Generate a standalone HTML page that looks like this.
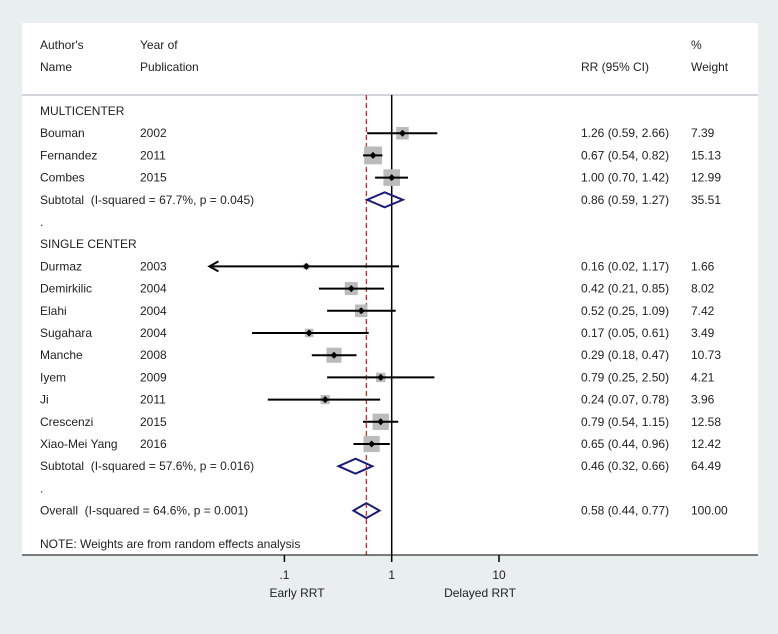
<!DOCTYPE html>
<html><head><meta charset="utf-8"><style>
body{margin:0;width:778px;height:629px;overflow:hidden;background:#e9eeee;font-family:"Liberation Sans",sans-serif}
svg text{font-family:"Liberation Sans",sans-serif;font-size:12px;fill:#222;white-space:pre}
</style></head><body>
<svg width="778" height="629">
<rect x="22" y="23" width="736" height="532" fill="#fff"/>
<line x1="22" y1="95" x2="758" y2="95" stroke="#aab" stroke-width="1"/>
<g>
<text x="40" y="49">Author's</text><text x="40" y="71">Name</text>
<text x="140" y="49">Year of</text><text x="140" y="71">Publication</text>
<text x="581" y="71">RR (95% CI)</text>
<text x="691" y="49">%</text><text x="691" y="71">Weight</text>
</g>
<g id="g"></g>
</svg>
<script>
const names=["Bouman","Fernandez","Combes","Durmaz","Demirkilic","Elahi","Sugahara","Manche","Iyem","Ji","Crescenzi","Xiao-Mei Yang"];
const years=["2002","2011","2015","2003","2004","2004","2004","2008","2009","2011","2015","2016"];
const rr=[1.26,0.67,1.00,0.16,0.42,0.52,0.17,0.29,0.79,0.24,0.79,0.65];
const lo=[0.59,0.54,0.70,0.02,0.21,0.25,0.05,0.18,0.25,0.07,0.54,0.44];
const hi=[2.66,0.82,1.42,1.17,0.85,1.09,0.61,0.47,2.50,0.78,1.15,0.96];
const weights=["7.39","15.13","12.99","1.66","8.02","7.42","3.49","10.73","4.21","3.96","12.58","12.42"];
const rowIdx=[1,2,3,7,8,9,10,11,12,13,14,15];
const pooledLabels=["Subtotal  (I-squared = 67.7%, p = 0.045)","Subtotal  (I-squared = 57.6%, p = 0.016)","Overall  (I-squared = 64.6%, p = 0.001)"];
const pooledRR=[0.86,0.46,0.58];
const pooledLo=[0.59,0.32,0.44];
const pooledHi=[1.27,0.66,0.77];
const pooledW=["35.51","64.49","100.00"];
const pooledRow=[4,16,18];
const ticks=[0.1,1,10];
const tickLabels=[".1","1","10"];
const overall=0.58;

const NS="http://www.w3.org/2000/svg",g=document.getElementById('g');
const X=v=>391.7+Math.log10(v)*107.3;
const Y=r=>111+r*22.2;
function el(t,a,txt){const e=document.createElementNS(NS,t);for(const k in a)e.setAttribute(k,a[k]);if(txt!=null)e.textContent=txt;g.appendChild(e);return e;}
const f2=v=>v.toFixed(2);
let e;
e=el('text',{x:40,y:Y(0)+4},'MULTICENTER');


e=el('text',{x:40,y:Y(5)+4},'.');


e=el('text',{x:40,y:Y(6)+4},'SINGLE CENTER');


e=el('text',{x:40,y:Y(17)+4},'.');


e=el('text',{x:40,y:548},'NOTE: Weights are from random effects analysis');


e=el('line',{x1:X(1),y1:95,x2:X(1),y2:555,stroke:'#000','stroke-width':1.5});


e=el('line',{x1:X(overall),y1:95,x2:X(overall),y2:555,stroke:'#a0302e','stroke-width':1.2,'stroke-dasharray':'5,3'});


names.forEach((n,i)=>{
 const yy=Y(rowIdx[i]);
 e=el('text',{x:40,y:yy+4},n);
 e=el('text',{x:140,y:yy+4},years[i]);
 e=el('text',{x:581,y:yy+4},f2(rr[i])+' ('+f2(lo[i])+', '+f2(hi[i])+')');
 e=el('text',{x:691,y:yy+4},weights[i]);
 const s=4.6*Math.sqrt(parseFloat(weights[i]));
 e=el('rect',{x:X(rr[i])-s/2,y:yy-s/2,width:s,height:s,fill:'#bbb'});
 e=el('line',{x1:X(lo[i]),y1:yy,x2:X(hi[i]),y2:yy,stroke:'#000','stroke-width':2});
 if(lo[i]<=0.02){e=el('path',{d:`M${X(lo[i])+9},${yy-5} L${X(lo[i])},${yy} L${X(lo[i])+9},${yy+5}`,fill:'none',stroke:'#000','stroke-width':2});}
 e=el('path',{d:`M${X(rr[i])-3.5},${yy} L${X(rr[i])},${yy-3.5} L${X(rr[i])+3.5},${yy} L${X(rr[i])},${yy+3.5}Z`,fill:'#000'});
});
pooledLabels.forEach((l,i)=>{
 const yy=Y(pooledRow[i]);
 e=el('text',{x:40,y:yy+4},l);
 e=el('text',{x:581,y:yy+4},f2(pooledRR[i])+' ('+f2(pooledLo[i])+', '+f2(pooledHi[i])+')');
 e=el('text',{x:691,y:yy+4},pooledW[i]);
 e=el('path',{d:`M${X(pooledLo[i])},${yy} L${X(pooledRR[i])},${yy-7.5} L${X(pooledHi[i])},${yy} L${X(pooledRR[i])},${yy+7.5}Z`,fill:'none',stroke:'#1b1b78','stroke-width':2});
});
e=el('line',{x1:22,y1:555,x2:758,y2:555,stroke:'#000','stroke-width':1});
ticks.forEach((t,i)=>{
 e=el('line',{x1:X(t),y1:555,x2:X(t),y2:562,stroke:'#000','stroke-width':1.5});
 e=el('text',{x:X(t),y:579,'text-anchor':'middle'},tickLabels[i]);
});
e=el('text',{x:297,y:597,'text-anchor':'middle'},'Early RRT');
e=el('text',{x:480,y:597,'text-anchor':'middle'},'Delayed RRT');
</script>
</body></html>
